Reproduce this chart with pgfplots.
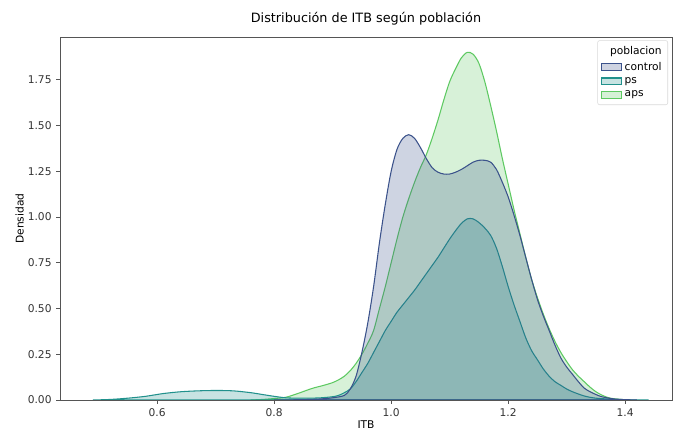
\documentclass[border=0pt]{standalone}
\usepackage{fontspec}
\setmainfont{DejaVu Sans}
\usepackage{pgfplots}
\pgfplotsset{compat=1.18}

\definecolor{cctrl}{HTML}{3B528B}
\definecolor{cps}{HTML}{21918C}
\definecolor{caps}{HTML}{5EC962}
\definecolor{spine}{HTML}{555555}

% KDE curves (x = ITB, y = density)
\pgfplotstableread{
x y
0.80 0.000
0.85 0.002
0.88 0.006
0.90 0.012
0.92 0.025
0.93 0.06
0.94 0.13
0.95 0.26
0.96 0.42
0.97 0.62
0.98 0.86
0.99 1.07
1.00 1.25
1.01 1.37
1.02 1.43
1.03 1.45
1.04 1.43
1.05 1.38
1.06 1.32
1.07 1.27
1.08 1.245
1.09 1.235
1.10 1.235
1.11 1.245
1.12 1.26
1.13 1.28
1.14 1.30
1.15 1.31
1.16 1.31
1.17 1.30
1.18 1.26
1.19 1.19
1.20 1.11
1.21 1.01
1.22 0.90
1.23 0.78
1.24 0.66
1.25 0.55
1.26 0.46
1.27 0.38
1.28 0.30
1.29 0.23
1.30 0.18
1.31 0.14
1.32 0.10
1.33 0.065
1.34 0.045
1.35 0.03
1.36 0.018
1.38 0.006
1.40 0.002
1.42 0.000
}\control

\pgfplotstableread{
x y
0.49 0.000
0.52 0.003
0.55 0.010
0.58 0.020
0.61 0.035
0.64 0.045
0.67 0.050
0.70 0.052
0.73 0.050
0.76 0.040
0.78 0.030
0.80 0.020
0.82 0.012
0.84 0.010
0.86 0.010
0.88 0.012
0.90 0.018
0.91 0.025
0.92 0.040
0.93 0.060
0.94 0.10
0.95 0.15
0.96 0.20
0.97 0.26
0.98 0.32
0.99 0.38
1.00 0.43
1.01 0.48
1.02 0.52
1.03 0.56
1.04 0.60
1.05 0.645
1.06 0.69
1.07 0.735
1.08 0.78
1.09 0.83
1.10 0.88
1.11 0.925
1.12 0.965
1.13 0.99
1.14 0.99
1.15 0.97
1.16 0.94
1.17 0.90
1.18 0.83
1.19 0.73
1.20 0.62
1.21 0.52
1.22 0.43
1.23 0.34
1.24 0.27
1.25 0.22
1.26 0.17
1.27 0.13
1.28 0.10
1.29 0.08
1.30 0.06
1.31 0.045
1.33 0.022
1.35 0.010
1.38 0.004
1.41 0.001
1.44 0.000
}\ps

\pgfplotstableread{
x y
0.76 0.000
0.78 0.003
0.80 0.008
0.82 0.015
0.84 0.035
0.86 0.058
0.87 0.068
0.88 0.076
0.89 0.085
0.90 0.095
0.91 0.110
0.92 0.130
0.93 0.160
0.94 0.20
0.95 0.25
0.96 0.31
0.97 0.38
0.98 0.50
0.99 0.62
1.00 0.75
1.01 0.88
1.02 1.00
1.03 1.10
1.04 1.19
1.05 1.27
1.06 1.34
1.07 1.43
1.08 1.53
1.09 1.64
1.10 1.74
1.11 1.81
1.12 1.87
1.13 1.90
1.14 1.89
1.15 1.84
1.16 1.74
1.17 1.61
1.18 1.47
1.19 1.32
1.20 1.18
1.21 1.04
1.22 0.91
1.23 0.78
1.24 0.66
1.25 0.56
1.26 0.47
1.27 0.39
1.28 0.32
1.29 0.26
1.30 0.21
1.31 0.165
1.32 0.13
1.33 0.10
1.34 0.07
1.35 0.045
1.36 0.027
1.37 0.014
1.38 0.007
1.40 0.001
1.41 0.000
}\aps

\begin{document}
\begin{tikzpicture}
\begin{axis}[
    name=ax,
    scale only axis,
    width=459pt, height=272.25pt,
    xmin=0.434, xmax=1.48, ymin=0, ymax=1.984,
    axis line style={spine, line width=0.6pt},
    tick style={spine, line width=0.6pt},
    tick align=outside, major tick length=2.8pt,
    xtick pos=bottom, ytick pos=left,
    xtick={0.6,0.8,1.0,1.2,1.4},
    ytick={0,0.25,0.5,0.75,1,1.25,1.5,1.75},
    xticklabel style={/pgf/number format/.cd, fixed, fixed zerofill, precision=1},
    yticklabel style={/pgf/number format/.cd, fixed, fixed zerofill, precision=2},
    /pgf/number format/assume math mode=true,
    ticklabel style={font=\fontsize{8}{9}\selectfont, text=black!80},
    title={Distribución de ITB según población},
    title style={font=\fontsize{9.6}{11}\selectfont, at={(axis description cs:0.5,1)}, anchor=center, yshift=8pt},
    xlabel={ITB},
    xlabel style={font=\fontsize{8}{9}\selectfont, at={(axis description cs:0.5,0)}, anchor=center, yshift=-18.5pt},
    ylabel={Densidad},
    ylabel style={font=\fontsize{8}{9}\selectfont, at={(axis description cs:-0.066,0.5)}, anchor=center},
    legend style={at={(1,1)}, anchor=north east, xshift=-3pt, yshift=-2.5pt,
        draw=black!15, rounded corners=1.5pt, fill=white, fill opacity=0.8, text opacity=1,
        font=\fontsize{8}{9}\selectfont, cells={anchor=west}, row sep=0pt, inner sep=2.5pt},
    legend image code/.code={\draw[sharp corners, #1] (0pt,-2.6pt) rectangle (15pt,2.6pt);},
]
\addlegendimage{empty legend}
\addlegendentry{\hspace*{-11pt}poblacion}
\addlegendimage{draw=cctrl, line width=0.8pt, fill=cctrl, fill opacity=0.25}
\addlegendentry{control}
\addlegendimage{draw=cps, line width=0.8pt, fill=cps, fill opacity=0.25}
\addlegendentry{ps}
\addlegendimage{draw=caps, line width=0.8pt, fill=caps, fill opacity=0.25}
\addlegendentry{aps}

\addplot[forget plot, smooth, draw=caps, line width=0.8pt, fill=caps, fill opacity=0.25] table {\aps} \closedcycle;
\addplot[forget plot, smooth, draw=cps, line width=0.8pt, fill=cps, fill opacity=0.25] table {\ps} \closedcycle;
\addplot[forget plot, smooth, draw=cctrl, line width=0.8pt, fill=cctrl, fill opacity=0.25] table {\control} \closedcycle;
\end{axis}
\pgfresetboundingbox
\path[use as bounding box] ([xshift=-45pt,yshift=-23.25pt]ax.south west) rectangle ([xshift=2.25pt,yshift=27.75pt]ax.north east);
\end{tikzpicture}
\end{document}
